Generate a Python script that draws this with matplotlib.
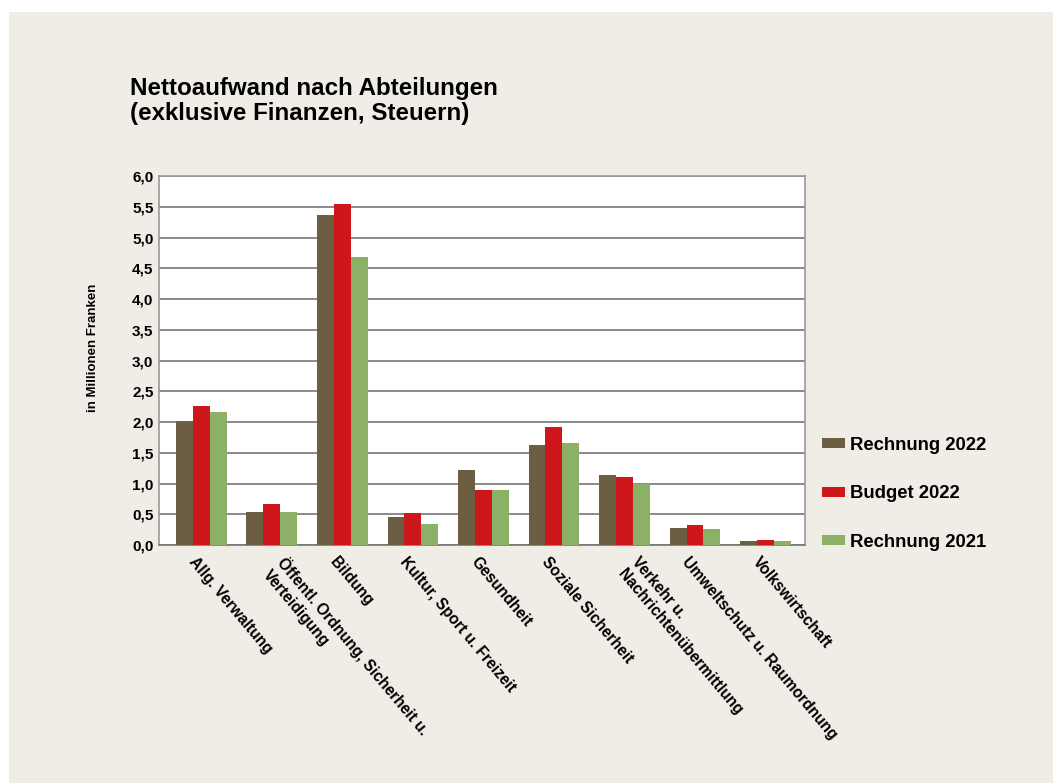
import matplotlib.pyplot as plt
import matplotlib.patches as mpatches
import numpy as np

categories = ['Allg. Verwaltung', 'Öffentl. Ordnung, Sicherheit u.\nVerteidigung', 'Bildung',
              'Kultur, Sport u. Freizeit', 'Gesundheit', 'Soziale Sicherheit',
              'Verkehr u.\nNachrichtenübermittlung', 'Umweltschutz u. Raumordnung', 'Volkswirtschaft']
rechnung_2022 = [2.02, 0.54, 5.37, 0.455, 1.22, 1.63, 1.14, 0.28, 0.065]
budget_2022 = [2.26, 0.67, 5.54, 0.52, 0.89, 1.92, 1.11, 0.33, 0.08]
rechnung_2021 = [2.16, 0.54, 4.68, 0.34, 0.89, 1.66, 1.00, 0.26, 0.065]
series_names = ['Rechnung 2022', 'Budget 2022', 'Rechnung 2021']
colors = ['#6b5e42', '#cd171a', '#8bb066']
bg = '#f0ede6'

plt.rcParams['font.family'] = ['Liberation Sans', 'DejaVu Sans']

fig = plt.figure(figsize=(10.53, 7.83), dpi=100, facecolor='white')
# beige panel with small white margin top/left
fig.patches.append(mpatches.Rectangle((9 / 1053, 0), 1, 1 - 12 / 783, transform=fig.transFigure,
                                      facecolor=bg, edgecolor='none', zorder=-10))

ax = fig.add_axes([0.151, 0.304, 0.6135, 0.471])
ax.set_facecolor('white')

x = np.arange(len(categories))
w = 0.24
for i, (vals, name, c) in enumerate(zip([rechnung_2022, budget_2022, rechnung_2021], series_names, colors)):
    ax.bar(x + (i - 1) * w, vals, width=w, color=c, label=name, zorder=3)

ax.set_xlim(-0.6, len(categories) - 0.44)
ax.set_ylim(0, 6)
yt = np.arange(0, 6.01, 0.5)
ax.set_yticks(yt)
ax.set_yticklabels([f'{v:.1f}'.replace('.', ',') for v in yt], fontsize=11, fontweight='bold')
ax.yaxis.grid(True, color='#777777', linewidth=1.2, zorder=0)
ax.tick_params(axis='y', length=0, pad=4)
ax.tick_params(axis='x', length=0)
for s in ax.spines.values():
    s.set_color('#999999')
    s.set_linewidth(1.2)
ax.spines['bottom'].set_color('#777777')

ax.set_xticks(x)
ax.set_xticklabels([])
for xi, lab in zip(x, categories):
    nlines = lab.count('\n') + 1
    ax.annotate(lab, xy=(xi, 0), xycoords=('data', 'axes fraction'),
                xytext=(-3 + 14.5 * (nlines - 1), -6.5), textcoords='offset points',
                rotation=-50, ha='left', va='top', rotation_mode='anchor',
                fontsize=11.2, fontweight='bold', linespacing=1.3)

fig.text(0.088, 0.556, 'in Millionen Franken', rotation=90, ha='center', va='center',
         fontsize=9.5, fontweight='bold')

fig.text(0.123, 0.871, 'Nettoaufwand nach Abteilungen\n(exklusive Finanzen, Steuern)',
         ha='left', va='center', fontsize=17.4, fontweight='bold', linespacing=1.15)

leg = ax.legend(loc='center left', bbox_to_anchor=(1.0, 0.139), frameon=False,
                prop={'size': 13.3, 'weight': 'bold'}, handlelength=1.25, handleheight=0.45,
                labelspacing=1.7, handletextpad=0.3, borderaxespad=0.5)

fig.savefig('out.png', dpi=100, facecolor=fig.get_facecolor())
